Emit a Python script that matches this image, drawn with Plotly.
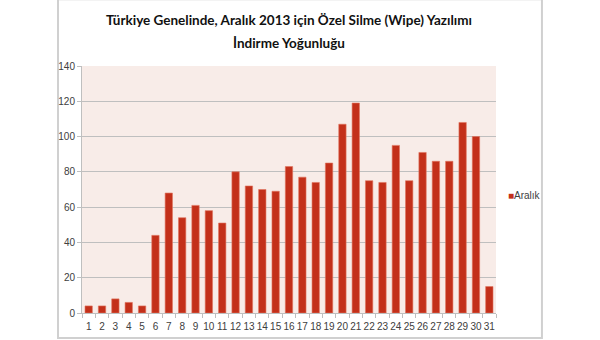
import plotly.graph_objects as go

days = [str(i) for i in range(1, 32)]
values = [4, 4, 8, 6, 4, 44, 68, 54, 61, 58, 51, 80, 72, 70, 69, 83, 77, 74, 85,
          107, 119, 75, 74, 95, 75, 91, 86, 86, 108, 100, 15]
series_name = "Aralık"
bar_color = "#C3301A"
title_lines = ["Türkiye Genelinde, Aralık 2013 için Özel Silme (Wipe) Yazılımı",
               "İndirme Yoğunluğu"]

fig = go.Figure()
fig.add_trace(go.Bar(
    x=days, y=values, name=series_name,
    marker=dict(color=bar_color, line=dict(color="#E0735E", width=0.6)),
    showlegend=False,
))

title_font = dict(family="Lato, Open Sans", size=13.5, color="#111111", weight="bold")
annotations = [
    dict(text=title_lines[0], xref="paper", yref="paper", x=0.5, y=1.186,
         xanchor="center", yanchor="middle", showarrow=False, font=title_font),
    dict(text=title_lines[1], xref="paper", yref="paper", x=0.5, y=1.093,
         xanchor="center", yanchor="middle", showarrow=False, font=title_font),
    dict(text=f"<span style='color:{bar_color}'>■</span>{series_name}",
         xref="paper", yref="paper", x=1.024, y=0.474,
         xanchor="left", yanchor="middle", showarrow=False,
         font=dict(family="Liberation Sans, Arial", size=10, color="#404040")),
]

fig.update_layout(
    width=600, height=340,
    margin=dict(l=82, r=104, t=66, b=27),
    paper_bgcolor="white",
    plot_bgcolor="#F8ECE8",
    bargap=0.45,
    font=dict(family="Liberation Sans, Arial", size=10, color="#404040"),
    annotations=annotations,
    showlegend=False,
    xaxis=dict(type="category", tickson="boundaries", ticks="outside", ticklen=4,
               tickcolor="#BFBFBF", showline=True, linecolor="#BFBFBF",
               showgrid=False, tickfont=dict(size=10), tickangle=0,
               ticklabelstandoff=4, automargin=False),
    yaxis=dict(range=[0, 140], dtick=20, tick0=0, showgrid=True,
               gridcolor="#BFBFBF", gridwidth=1, ticks="outside", ticklen=4,
               tickcolor="#BFBFBF", showline=True, linecolor="#BFBFBF",
               tickfont=dict(size=10), zeroline=False, automargin=False),
    shapes=[dict(type="rect", xref="paper", yref="paper",
                 x0=-0.058, x1=1.111, y0=-0.101, y1=1.27,
                 line=dict(color="#D0D0D0", width=2), layer="below")],
)

fig.write_html("out.html")
